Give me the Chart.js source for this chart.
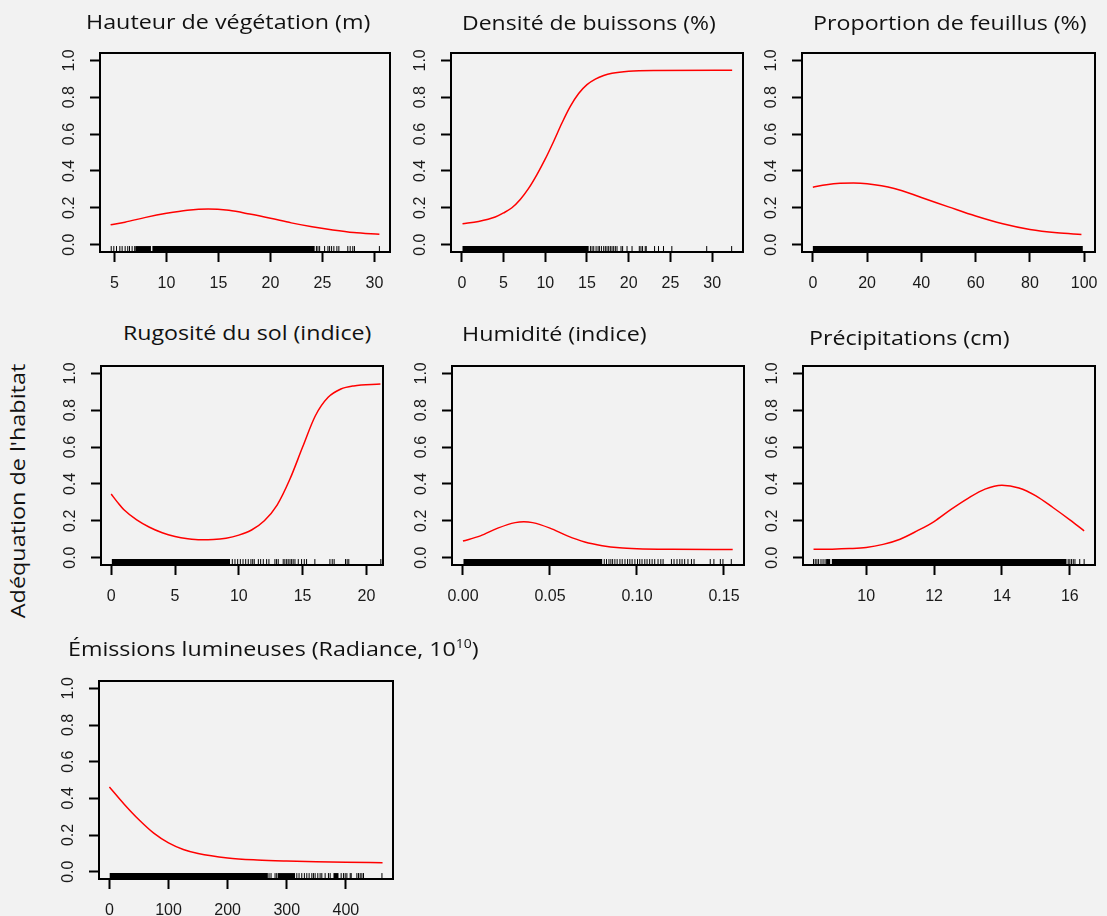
<!DOCTYPE html>
<html lang="fr">
<head>
<meta charset="utf-8">
<script src="https://cdn.jsdelivr.net/npm/chart.js@4.4.1/dist/chart.umd.min.js"></script>
<style>
  html, body { margin: 0; padding: 0; background: #f2f2f2; }
  body { width: 1107px; height: 916px; position: relative; overflow: hidden; font-family: 'Open Sans', sans-serif; }
  .panel { position: absolute; }
  .title { position: absolute; white-space: nowrap; font-size: 20px; line-height: 1; color: #111;
           transform-origin: 0 0; }
  .title sup { font-size: 12px; vertical-align: 8px; line-height: 0; }
  .ylab { position: absolute; white-space: nowrap; font-size: 20px; line-height: 24px; color: #111; }
</style>
</head>
<body>
<div class="ylab" id="ylab">Adéquation de l'habitat</div>
<script>
const yTicks = [0, 0.2, 0.4, 0.6, 0.8, 1.0];

// Hauteur de végétation (m)
const hauteurX = [4.62, 6, 8, 10, 12, 14, 16, 18, 20, 22, 24, 26, 28, 30.48];
const hauteurY = [0.108, 0.122, 0.148, 0.170, 0.187, 0.194, 0.186, 0.166, 0.143, 0.118, 0.097, 0.080, 0.066, 0.056];
const hauteurTicks = [5, 10, 15, 20, 25, 30];
const hauteurRug = [4.68, 4.93, 5.19, 5.51, 5.73, 6.02, 6.27, 6.44, 6.69, 6.94, 24.42, 24.57, 24.73, 25.21, 25.53,
  25.69, 25.88, 26.10, 26.39, 26.58, 27.44, 27.67, 27.92, 28.08, 30.48];
const hauteurDense = [[7.0, 8.5], [8.64, 24.25]];

// Densité de buissons (%)
const densiteX = [0.08, 2, 4, 5, 6, 7, 8, 9, 10, 11, 12, 13, 14, 15, 16, 17, 18, 20, 23, 32.4];
const densiteY = [0.113, 0.126, 0.150, 0.172, 0.200, 0.245, 0.305, 0.38, 0.465, 0.56, 0.66, 0.75, 0.82, 0.868, 0.898,
  0.918, 0.930, 0.941, 0.945, 0.946];
const densiteTicks = [0, 5, 10, 15, 20, 25, 30];
const densiteRug = [15.41, 15.61, 15.81, 16.09, 16.33, 16.49, 16.73, 17.00, 17.20, 17.40, 17.60, 17.80, 18.00, 18.20,
  18.40, 18.60, 19.08, 19.27, 19.80, 20.40, 21.27, 21.47, 21.66, 21.98, 22.10, 23.10, 23.57, 24.17, 25.17, 29.35, 32.34];
const densiteDense = [[0.08, 15.2]];

// Proportion de feuillus (%)
const feuillusX = [0, 5, 10, 15, 20, 30, 40, 50, 60, 70, 80, 90, 99];
const feuillusY = [0.312, 0.325, 0.333, 0.335, 0.331, 0.305, 0.256, 0.205, 0.155, 0.113, 0.082, 0.064, 0.055];
const feuillusTicks = [0, 20, 40, 60, 80, 100];
const feuillusRug = [];
const feuillusDense = [[0, 99.5]];

// Rugosité du sol (indice)
const rugositeX = [0, 0.5, 1, 2, 3, 4, 5, 6, 7, 8, 9, 10, 11, 12, 13, 14, 15, 16, 17, 18, 19, 21.1];
const rugositeY = [0.345, 0.30, 0.26, 0.205, 0.165, 0.135, 0.115, 0.103, 0.097, 0.098, 0.105, 0.122, 0.150, 0.200,
  0.285, 0.425, 0.600, 0.770, 0.870, 0.915, 0.932, 0.942];
const rugositeTicks = [0, 5, 10, 15, 20];
const rugositeRug = [9.49, 9.70, 9.91, 10.12, 10.33, 10.54, 10.74, 10.95, 11.09, 11.21, 11.53, 11.71, 11.92, 12.18,
  12.36, 12.83, 12.96, 13.09, 13.48, 13.61, 13.75, 13.87, 14.01, 14.14, 14.26, 14.40, 14.66, 14.92, 15.13, 15.31,
  15.96, 17.14, 17.32, 17.47, 18.36, 18.49, 18.62, 21.13];
const rugositeDense = [[0.05, 9.31]];

// Humidité (indice)
const humiditeX = [0, 0.01, 0.02, 0.03, 0.035, 0.04, 0.05, 0.06, 0.07, 0.08, 0.09, 0.10, 0.12, 0.155];
const humiditeY = [0.090, 0.118, 0.160, 0.190, 0.195, 0.190, 0.160, 0.118, 0.085, 0.065, 0.053, 0.048, 0.045, 0.044];
const humiditeTicks = [0, 0.05, 0.10, 0.15];
const humiditeRug = [0.0812, 0.0825, 0.0839, 0.0850, 0.0860, 0.0873, 0.0886, 0.0902, 0.0915, 0.0931, 0.0946, 0.0959,
  0.0972, 0.0988, 0.1003, 0.1016, 0.1029, 0.1045, 0.1058, 0.1073, 0.1087, 0.1102, 0.1121, 0.1137, 0.1150, 0.1198,
  0.1213, 0.1230, 0.1246, 0.1259, 0.1274, 0.1293, 0.1313, 0.1328, 0.1421, 0.1442, 0.1479, 0.1494, 0.1542];
const humiditeDense = [[0.0003, 0.080]];

// Précipitations (cm)
const precipX = [8.45, 9, 9.5, 10, 10.5, 11, 11.5, 12, 12.5, 13, 13.5, 14, 14.5, 15, 15.5, 16, 16.42];
const precipY = [0.045, 0.046, 0.049, 0.055, 0.072, 0.100, 0.145, 0.196, 0.262, 0.322, 0.372, 0.393, 0.378, 0.335,
  0.272, 0.205, 0.145];
const precipTicks = [10, 12, 14, 16];
const precipRug = [8.45, 8.50, 8.55, 8.60, 8.67, 8.73, 8.79, 8.86, 15.95, 16.00, 16.05, 16.10, 16.15, 16.29, 16.42];
const precipDense = [[8.82, 8.94], [8.99, 15.90]];

// Émissions lumineuses (Radiance, 10^10)
const emissionsX = [0, 25, 50, 75, 100, 125, 150, 200, 250, 300, 350, 400, 462];
const emissionsY = [0.462, 0.368, 0.283, 0.21, 0.157, 0.121, 0.099, 0.075, 0.064, 0.058, 0.054, 0.051, 0.049];
const emissionsTicks = [0, 100, 200, 300, 400];
const emissionsRug = [270, 273.4, 280.2, 283, 317, 320.8, 325.4, 329.8, 333.9, 337.8, 342.4, 345.1, 348, 352.5, 356.4,
  359.3, 364.9, 370.5, 373.4, 392, 395.9, 398.8, 401.7, 407.3, 409, 418.6, 421.4, 424.2, 427.1, 429.8, 461];
const emissionsDense = [[0.5, 268], [284.7, 314], [379, 387.5]];

const panels = [
  { title: 'Hauteur de végétation (m)', titleAt: [86, 11.6, 284], box: [100, 53, 390, 252], xRange: [3.6, 31.5],
    xs: hauteurX, ys: hauteurY, ticks: hauteurTicks, rug: hauteurRug, dense: hauteurDense, dec: 0 },
  { title: 'Densité de buissons (%)', titleAt: [462, 12.6, 254], box: [451, 53, 743, 252], xRange: [-1.3, 33.7],
    xs: densiteX, ys: densiteY, ticks: densiteTicks, rug: densiteRug, dense: densiteDense, dec: 0 },
  { title: 'Proportion de feuillus (%)', titleAt: [813, 13.3, 274], box: [802, 53, 1095, 252], xRange: [-4, 104],
    xs: feuillusX, ys: feuillusY, ticks: feuillusTicks, rug: feuillusRug, dense: feuillusDense, dec: 0 },
  { title: 'Rugosité du sol (indice)', titleAt: [123, 323.3, 248], box: [101, 366, 383, 565], xRange: [-0.8, 21.3],
    xs: rugositeX, ys: rugositeY, ticks: rugositeTicks, rug: rugositeRug, dense: rugositeDense, dec: 0 },
  { title: 'Humidité (indice)', titleAt: [462, 324, 185], box: [452, 366, 744, 565], xRange: [-0.0063, 0.1615],
    xs: humiditeX, ys: humiditeY, ticks: humiditeTicks, rug: humiditeRug, dense: humiditeDense, dec: 2 },
  { title: 'Précipitations (cm)', titleAt: [809, 328.3, 201], box: [803, 366, 1095, 565], xRange: [8.14, 16.74],
    xs: precipX, ys: precipY, ticks: precipTicks, rug: precipRug, dense: precipDense, dec: 0 },
  { title: 'Émissions lumineuses (Radiance, 10<sup>10</sup>)', titleAt: [68, 639.3, 411], box: [99, 681, 393, 879],
    xRange: [-17.6, 479.7], xs: emissionsX, ys: emissionsY, ticks: emissionsTicks, rug: emissionsRug,
    dense: emissionsDense, dec: 0 }
];

const RUG_Y = -0.024;
const tickFont = { family: "'Liberation Sans', Arial, sans-serif", size: 16 };

const boxPlugin = {
  id: 'box',
  afterDatasetsDraw(chart) {
    const { ctx, chartArea: a } = chart;
    ctx.save();
    ctx.strokeStyle = '#000';
    ctx.lineWidth = 2;
    ctx.strokeRect(a.left, a.top, a.right - a.left, a.bottom - a.top);
    ctx.restore();
  }
};

// shared y label, stretched to the reference length and rotated
const ylab = document.getElementById('ylab');
const ylabScale = 255 / ylab.offsetWidth;
ylab.style.left = (18 - ylab.offsetWidth / 2) + 'px';
ylab.style.top = (491 - 12) + 'px';
ylab.style.transform = `rotate(-90deg) scaleX(${ylabScale})`;

panels.forEach(p => {
  const [l, t, r, b] = p.box;
  const wrap = document.createElement('div');
  wrap.className = 'panel';
  wrap.style.left = (l - 60) + 'px';
  wrap.style.top = (t - 20) + 'px';
  wrap.style.width = (r - l + 80) + 'px';
  wrap.style.height = (b - t + 65) + 'px';
  const canvas = document.createElement('canvas');
  wrap.appendChild(canvas);
  document.body.appendChild(wrap);

  const title = document.createElement('div');
  title.className = 'title';
  title.innerHTML = p.title;
  title.style.left = p.titleAt[0] + 'px';
  title.style.top = p.titleAt[1] + 'px';
  document.body.appendChild(title);
  title.style.transform = `scaleX(${p.titleAt[2] / title.offsetWidth})`;

  const datasets = [{
    data: p.xs.map((x, i) => ({ x, y: p.ys[i] })),
    showLine: true,
    borderColor: '#ff0000',
    borderWidth: 1.5,
    pointRadius: 0,
    cubicInterpolationMode: 'monotone'
  }];
  p.dense.forEach(([a, z]) => datasets.push({
    data: [{ x: a, y: RUG_Y }, { x: z, y: RUG_Y }],
    showLine: true,
    borderColor: '#000',
    borderWidth: 6,
    borderCapStyle: 'butt',
    pointRadius: 0
  }));
  datasets.push({
    data: p.rug.map(x => ({ x, y: RUG_Y })),
    pointStyle: 'line',
    rotation: 90,
    pointRadius: 3,
    borderWidth: 1,
    borderColor: '#000',
    backgroundColor: '#000'
  });

  new Chart(canvas.getContext('2d'), {
    type: 'scatter',
    data: { datasets },
    plugins: [boxPlugin],
    options: {
      responsive: true,
      maintainAspectRatio: false,
      animation: false,
      events: [],
      layout: { padding: { top: 20, right: 20, left: 0, bottom: 0 } },
      plugins: { legend: { display: false }, tooltip: { enabled: false } },
      scales: {
        x: {
          type: 'linear',
          min: p.xRange[0],
          max: p.xRange[1],
          bounds: 'data',
          afterBuildTicks: s => { s.ticks = p.ticks.map(v => ({ value: v })); },
          afterFit: s => { s.height = 45; },
          border: { display: false },
          grid: { drawOnChartArea: false, drawTicks: true, tickLength: 10, tickWidth: 2, tickColor: '#000' },
          ticks: { autoSkip: false, maxRotation: 0, padding: 12, color: '#1a1a1a', font: tickFont,
                   callback: v => Number(v).toFixed(p.dec) }
        },
        y: {
          type: 'linear',
          min: -0.04,
          max: 1.04,
          bounds: 'data',
          afterBuildTicks: s => { s.ticks = yTicks.map(v => ({ value: v })); },
          afterFit: s => { s.width = 60; },
          border: { display: false },
          grid: { drawOnChartArea: false, drawTicks: true, tickLength: 10, tickWidth: 2, tickColor: '#000' },
          ticks: { autoSkip: false, minRotation: 90, maxRotation: 90, crossAlign: 'center', padding: 9,
                   color: '#1a1a1a', font: tickFont, callback: v => Number(v).toFixed(1) }
        }
      }
    }
  });
});
</script>
</body>
</html>
